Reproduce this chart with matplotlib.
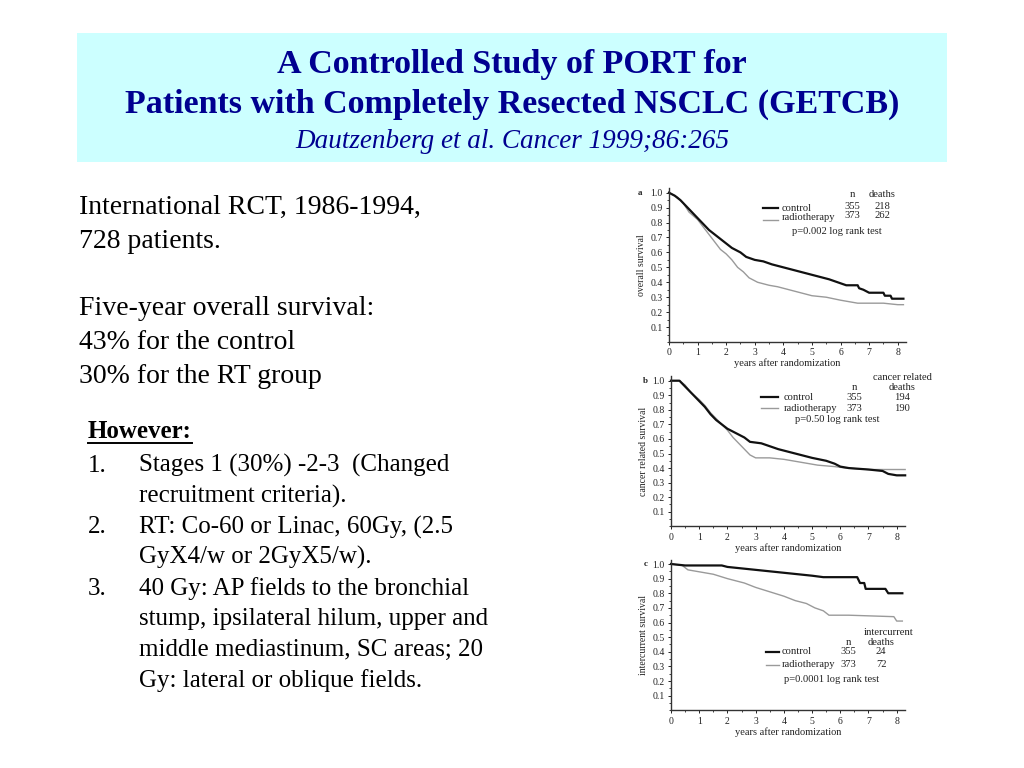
import glob
import os
import matplotlib
matplotlib.use("Agg")
import matplotlib.pyplot as plt
from matplotlib import font_manager
from matplotlib.patches import Rectangle
from matplotlib.lines import Line2D
from matplotlib.ticker import MultipleLocator

W, H = 1024, 768

# ---------------- data ----------------
years_ticks = [0, 1, 2, 3, 4, 5, 6, 7, 8]
surv_ticks = [0.1, 0.2, 0.3, 0.4, 0.5, 0.6, 0.7, 0.8, 0.9, 1.0]

# Panel a: overall survival
a_ctrl_x = [0, 0.2, 0.4, 0.6, 0.8, 1.0, 1.2, 1.4, 1.6, 1.8, 2.0, 2.2, 2.5, 2.7, 3.0, 3.3, 3.6, 4.0, 4.4, 4.8, 5.2, 5.6, 5.9, 6.2, 6.6, 6.65, 6.8, 7.0, 7.5, 7.55, 7.75, 7.8, 8.2]
a_ctrl_y = [1.0, 0.98, 0.95, 0.91, 0.87, 0.83, 0.79, 0.75, 0.72, 0.69, 0.66, 0.63, 0.60, 0.57, 0.55, 0.54, 0.52, 0.50, 0.48, 0.46, 0.44, 0.42, 0.40, 0.38, 0.38, 0.36, 0.35, 0.33, 0.33, 0.31, 0.31, 0.29, 0.29]
a_rt_x = [0, 0.3, 0.5, 0.7, 1.0, 1.2, 1.4, 1.6, 1.8, 2.0, 2.2, 2.4, 2.6, 2.8, 3.1, 3.5, 3.8, 4.2, 4.6, 5.0, 5.5, 6.0, 6.3, 6.6, 7.5, 8.0, 8.2]
a_rt_y = [1.0, 0.97, 0.93, 0.87, 0.82, 0.77, 0.72, 0.67, 0.62, 0.59, 0.55, 0.50, 0.47, 0.43, 0.40, 0.38, 0.37, 0.35, 0.33, 0.31, 0.30, 0.28, 0.27, 0.26, 0.26, 0.25, 0.25]

# Panel b: cancer related survival
b_ctrl_x = [0, 0.3, 0.4, 0.55, 0.8, 1.0, 1.2, 1.4, 1.6, 1.8, 2.0, 2.3, 2.6, 2.8, 3.2, 3.5, 3.8, 4.2, 4.6, 5.0, 5.5, 5.8, 6.0, 6.3, 7.0, 7.5, 7.7, 8.0, 8.3]
b_ctrl_y = [1.0, 1.0, 0.98, 0.95, 0.90, 0.86, 0.82, 0.77, 0.73, 0.70, 0.67, 0.64, 0.61, 0.58, 0.57, 0.55, 0.53, 0.51, 0.49, 0.47, 0.45, 0.43, 0.41, 0.40, 0.39, 0.38, 0.36, 0.35, 0.35]
b_rt_x = [0, 0.3, 0.5, 0.7, 1.0, 1.2, 1.4, 1.6, 1.8, 2.0, 2.2, 2.4, 2.6, 2.8, 3.0, 3.5, 4.0, 4.6, 5.2, 5.8, 6.2, 7.0, 8.3]
b_rt_y = [1.0, 1.0, 0.97, 0.92, 0.87, 0.83, 0.78, 0.74, 0.70, 0.66, 0.61, 0.57, 0.53, 0.49, 0.47, 0.47, 0.46, 0.44, 0.42, 0.41, 0.40, 0.39, 0.39]

# Panel c: intercurrent survival
c_ctrl_x = [0, 0.5, 1.8, 2.0, 2.5, 3.0, 3.5, 4.0, 4.5, 5.0, 5.4, 6.6, 6.7, 6.85, 6.9, 7.6, 7.7, 8.2]
c_ctrl_y = [1.0, 0.99, 0.99, 0.98, 0.97, 0.96, 0.95, 0.94, 0.93, 0.92, 0.91, 0.91, 0.87, 0.87, 0.83, 0.83, 0.80, 0.80]
c_rt_x = [0, 0.4, 0.6, 0.9, 1.5, 2.0, 2.6, 3.0, 3.5, 4.0, 4.4, 4.8, 5.1, 5.4, 5.6, 6.3, 7.9, 8.0, 8.2]
c_rt_y = [1.0, 0.99, 0.96, 0.95, 0.93, 0.90, 0.87, 0.84, 0.81, 0.78, 0.75, 0.73, 0.70, 0.68, 0.65, 0.65, 0.64, 0.61, 0.61]

groups = ["control", "radiotherapy"]
n_pat = [355, 373]
a_deaths = [218, 262]
b_deaths = [194, 190]
c_deaths = [24, 72]

title1 = "A Controlled Study of PORT for"
title2 = "Patients with Completely Resected NSCLC (GETCB)"
subtitle = "Dautzenberg et al. Cancer 1999;86:265"

left_lines = ["International RCT, 1986-1994,", "728 patients.", "",
              "Five-year overall survival:", "43% for the control", "30% for the RT group"]
however_items = [
    ("1.", ["Stages 1 (30%) -2-3  (Changed", "recruitment criteria)."]),
    ("2.", ["RT: Co-60 or Linac, 60Gy, (2.5", "GyX4/w or 2GyX5/w)."]),
    ("3.", ["40 Gy: AP fields to the bronchial", "stump, ipsilateral hilum, upper and",
            "middle mediastinum, SC areas; 20", "Gy: lateral or oblique fields."]),
]

# ---------------- font setup ----------------
for d in ["/usr/share/fonts", "/usr/local/share/fonts", os.path.expanduser("~/.fonts"),
          os.path.expanduser("~/.local/share/fonts")]:
    for f in glob.glob(os.path.join(d, "**", "LiberationSerif*.ttf"), recursive=True):
        try:
            font_manager.fontManager.addfont(f)
        except Exception:
            pass
names = {f.name for f in font_manager.fontManager.ttflist}
serif_choice = None
for cand in ["Liberation Serif", "Times New Roman", "Tinos", "Nimbus Roman",
             "Nimbus Roman No9 L", "FreeSerif", "DejaVu Serif"]:
    if cand in names:
        serif_choice = cand
        break
if serif_choice is None:
    serif_choice = "serif"
plt.rcParams['font.family'] = [serif_choice, 'DejaVu Serif']

# ---------------- figure ----------------
fig = plt.figure(figsize=(W / 100, H / 100), dpi=100)
fig.patch.set_facecolor('white')


def fx(px):
    return px / W


def fy(py):
    return 1 - py / H


# title box
fig.patches.append(Rectangle((fx(77), fy(162)), fx(947) - fx(77), fy(33) - fy(162),
                             transform=fig.transFigure, facecolor='#ccffff',
                             edgecolor='none', zorder=0))
navy = '#000090'
fig.text(0.5, fy(73), title1, ha='center', va='baseline', fontsize=24.5,
         fontweight='bold', color=navy)
fig.text(0.5, fy(113), title2, ha='center', va='baseline', fontsize=24.5,
         fontweight='bold', color=navy)
fig.text(0.5, fy(148), subtitle, ha='center', va='baseline', fontsize=19.5,
         style='italic', color=navy)

# left text
y0 = 214
for i, line in enumerate(left_lines):
    if line:
        fig.text(fx(79), fy(y0 + i * 33.8), line, ha='left', va='baseline',
                 fontsize=20, color='black')

# However block
hw = fig.text(fx(88), fy(438), "However:", ha='left', va='baseline', fontsize=18,
              fontweight='bold', color='black')
yy = 471.5
for num, lines in however_items:
    fig.text(fx(88), fy(yy), num, ha='left', va='baseline', fontsize=18, color='black')
    for ln in lines:
        fig.text(fx(139), fy(yy), ln, ha='left', va='baseline', fontsize=18, color='black')
        yy += 30.8

# underline for "However:"
fig.canvas.draw()
bb = hw.get_window_extent()
x_l, x_r = bb.x0 / W, bb.x1 / W
fig.lines.append(Line2D([x_l, x_r], [fy(443), fy(443)], transform=fig.transFigure,
                        color='black', lw=1.4))

# ---------------- panels ----------------
txtc = '#222222'
ptxt = 7.6


def make_panel(left_px, zero_py, one_py, x8_px, letter, letter_x, ylabel):
    unit_x = (x8_px - left_px) / 8.0
    unit_y = zero_py - one_py
    xmax = 8.3
    ymax = 1.03
    ax = fig.add_axes([fx(left_px), fy(zero_py), xmax * unit_x / W, ymax * unit_y / H])
    ax.set_xlim(0, xmax)
    ax.set_ylim(0, ymax)
    for s in ['top', 'right']:
        ax.spines[s].set_visible(False)
    for s in ['left', 'bottom']:
        ax.spines[s].set_linewidth(1.0)
        ax.spines[s].set_color('#333333')
    ax.set_xticks(years_ticks)
    ax.set_xticklabels([str(t) for t in years_ticks])
    ax.set_yticks(surv_ticks)
    ax.set_yticklabels(['%.1f' % t for t in surv_ticks])
    ax.xaxis.set_minor_locator(MultipleLocator(0.5))
    ax.yaxis.set_minor_locator(MultipleLocator(0.05))
    ax.tick_params(axis='both', which='major', labelsize=7, length=2.5, width=0.7, pad=2,
                   colors=txtc, direction='out')
    ax.tick_params(axis='both', which='minor', length=1.5, width=0.6, colors=txtc,
                   direction='out')
    ax.set_xlabel("years after randomization", fontsize=7.5, color=txtc, labelpad=1)
    ax.set_ylabel(ylabel, fontsize=7, color=txtc, labelpad=3)
    ax.text(letter_x, 1.0, letter, fontsize=6.5, fontweight='bold',
            color=txtc, ha='center', va='center', clip_on=False)
    ax.patch.set_alpha(0)
    return ax


ax_a = make_panel(669, 342, 192.7, 897.7, 'a', -1.0, 'overall survival')
ax_b = make_panel(671, 526.3, 380.7, 896.7, 'b', -0.9, 'cancer related survival')
ax_c = make_panel(671, 710.3, 564, 896.7, 'c', -0.9, 'intercurrent survival')

ctrl_style = dict(color='#111111', lw=1.6, clip_on=False)
rt_style = dict(color='#9a9a9a', lw=1.0, clip_on=False)

ax_a.plot(a_rt_x, a_rt_y, **rt_style)
ax_a.plot(a_ctrl_x, a_ctrl_y, **ctrl_style)
ax_b.plot(b_rt_x, b_rt_y, **rt_style)
ax_b.plot(b_ctrl_x, b_ctrl_y, **ctrl_style)
ax_c.plot(c_rt_x, c_rt_y, **rt_style)
ax_c.plot(c_ctrl_x, c_ctrl_y, **ctrl_style)


def legend_block(ax, line_x, text_x, y_rows, n_x, d_x, row_num_y, deaths, header_y,
                 p_text, p_xy, header_extra=None):
    for i, g in enumerate(groups):
        st = ctrl_style if i == 0 else rt_style
        ax.plot(line_x, [y_rows[i][0]] * 2, color=st['color'], lw=st['lw'], clip_on=False)
        ax.text(text_x, y_rows[i][1], g, fontsize=ptxt, color=txtc, ha='left', va='center')
        ax.text(n_x, row_num_y[i], str(n_pat[i]), fontsize=ptxt, color=txtc,
                ha='center', va='center')
        ax.text(d_x, row_num_y[i], str(deaths[i]), fontsize=ptxt, color=txtc,
                ha='center', va='center')
    ax.text(n_x, header_y, "n", fontsize=ptxt, color=txtc, ha='center', va='center')
    ax.text(d_x, header_y, "deaths", fontsize=ptxt, color=txtc, ha='center', va='center')
    if header_extra:
        ax.text(header_extra[0], header_extra[1], header_extra[2], fontsize=ptxt,
                color=txtc, ha='center', va='center')
    ax.text(p_xy[0], p_xy[1], p_text, fontsize=ptxt, color=txtc, ha='center', va='center')


legend_block(ax_a, [3.3, 3.8], 3.95, [(0.895, 0.895), (0.82, 0.835)], 6.4, 7.45,
             [0.905, 0.85], a_deaths, 0.985, "p=0.002 log rank test", (5.86, 0.74))
legend_block(ax_b, [3.2, 3.8], 4.0, [(0.886, 0.886), (0.81, 0.81)], 6.5, 8.2,
             [0.886, 0.81], b_deaths, 0.95, "p=0.50 log rank test", (5.88, 0.735),
             header_extra=(8.2, 1.025, "cancer related"))
legend_block(ax_c, [3.36, 3.83], 3.93, [(0.40, 0.40), (0.313, 0.316)], 6.29, 7.45,
             [0.40, 0.316], c_deaths, 0.462, "p=0.0001 log rank test", (5.7, 0.21),
             header_extra=(7.7, 0.535, "intercurrent"))

fig.savefig("out.png", dpi=100, facecolor='white')
